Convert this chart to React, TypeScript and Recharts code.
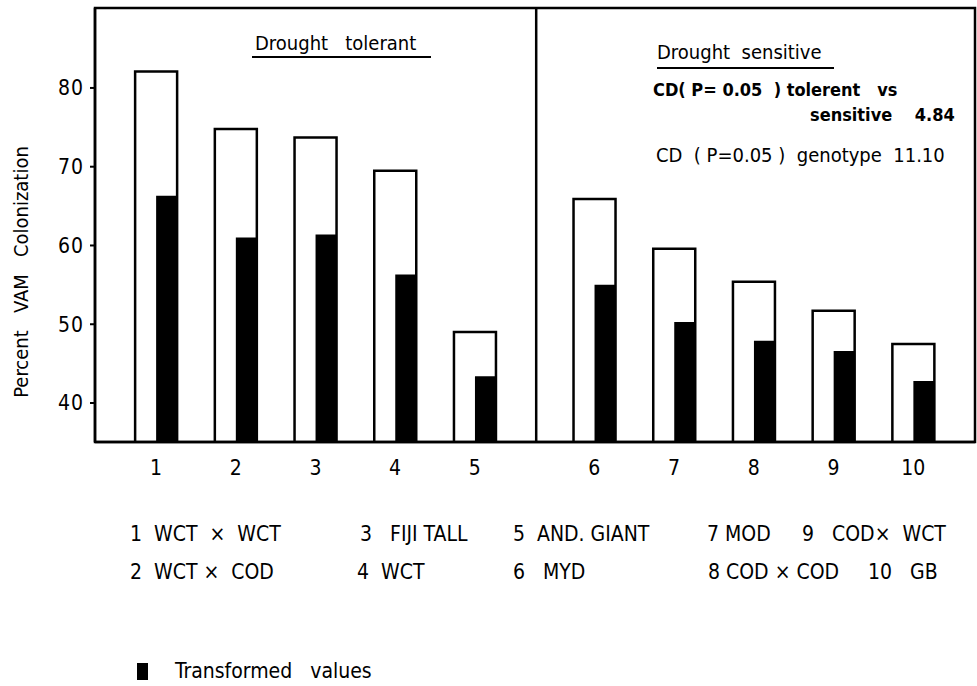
import React from 'react';
import { ComposedChart, Bar, XAxis, YAxis, ReferenceLine, ReferenceArea } from 'recharts';

const FONT = '"DejaVu Sans Condensed", "Liberation Sans Narrow", "DejaVu Sans", sans-serif';

// genotype numbers shown under the bars
const genotypeNumbers = ['1', '2', '3', '4', '5', '6', '7', '8', '9', '10'];
// percent VAM colonization (open bars)
const percentColonization = [82.1, 74.8, 73.7, 69.5, 49.0, 65.9, 59.6, 55.4, 51.7, 47.5];
// transformed values (black bars)
const transformedValues = [66.3, 61.0, 61.4, 56.3, 43.4, 55.0, 50.3, 47.9, 46.6, 42.8];
const genotypeNames = [
  'WCT  \u00d7  WCT',
  'WCT \u00d7  COD',
  'FIJI TALL',
  'WCT',
  'AND. GIANT',
  'MYD',
  'MOD',
  'COD \u00d7 COD',
  'COD\u00d7  WCT',
  'GB',
];
const yTicks = [40, 50, 60, 70, 80];

// layout of the genotype key under the chart
const KEY_LEFT = [130, 130, 360, 357, 513, 513, 707, 708, 802, 868];
const KEY_GAP = ['  ', '  ', '   ', '  ', '  ', '   ', ' ', ' ', '   ', '   '];
const KEY_ROW_Y = [535, 573];

// tolerant group sits in slots 1-5, sensitive group after a wider gap
const slot = (i: number) => (i < 5 ? i + 1 : i + 1.5);
const tickPositions = genotypeNumbers.map((_, i) => slot(i));
const labelAt = (v: number) => genotypeNumbers[tickPositions.indexOf(v)] ?? '';

const data = genotypeNumbers.map((g, i) => ({
  g,
  pos: slot(i),
  percent: percentColonization[i],
  transformed: transformedValues[i],
}));

const X_DOMAIN: [number, number] = [0.235, 11.275];
const Y_DOMAIN: [number, number] = [35.05, 90.15];

function Note({ x, cy, size = 20, bold = false, children }: any) {
  return (
    <div
      style={{
        position: 'absolute',
        left: x,
        top: cy - size * 0.6,
        fontSize: size,
        lineHeight: `${size * 1.2}px`,
        fontWeight: bold ? 700 : 400,
        whiteSpace: 'pre',
        fontFamily: FONT,
        color: '#000',
      }}
    >
      {children}
    </div>
  );
}

const YTitle = () => (
  <text
    transform="translate(28 272) rotate(-90)"
    textAnchor="middle"
    fontSize={20}
    fontFamily={FONT}
    fill="#000"
    style={{ whiteSpace: 'pre' }}
  >
    Percent   VAM   Colonization
  </text>
);

export default function App() {
  return (
    <div style={{ position: 'absolute', left: 0, top: 0, width: 977, height: 686, background: '#fff', fontFamily: FONT }}>
      <ComposedChart
        width={977}
        height={686}
        data={data}
        margin={{ top: 8, right: 2, bottom: 204, left: 0 }}
        barGap={-21}
        style={{ position: 'absolute', left: 0, top: 0 }}
      >
        <XAxis
          type="number"
          dataKey="pos"
          domain={X_DOMAIN}
          ticks={tickPositions}
          tickFormatter={labelAt}
          interval={0}
          height={40}
          tickLine={false}
          tickSize={6}
          tickMargin={12}
          axisLine={{ stroke: '#000', strokeWidth: 2.5 }}
          tick={{ fontSize: 21, fill: '#000', fontFamily: FONT }}
        />
        <YAxis
          type="number"
          domain={Y_DOMAIN}
          ticks={yTicks}
          allowDataOverflow
          width={95}
          tickSize={5}
          tickMargin={6}
          tickLine={{ stroke: '#000', strokeWidth: 2 }}
          axisLine={{ stroke: '#000', strokeWidth: 2.5 }}
          tick={{ fontSize: 21, fill: '#000', fontFamily: FONT, letterSpacing: 1 }}
          label={<YTitle />}
        />
        <ReferenceArea
          x1={X_DOMAIN[0]}
          x2={X_DOMAIN[1]}
          y1={Y_DOMAIN[0]}
          y2={Y_DOMAIN[1]}
          fill="none"
          stroke="#000"
          strokeWidth={2.5}
          ifOverflow="visible"
        />
        <ReferenceLine x={5.77} stroke="#000" strokeWidth={2.5} ifOverflow="visible" />
        <Bar dataKey="percent" barSize={42} fill="#fff" stroke="#000" strokeWidth={2.5} isAnimationActive={false} />
        <Bar dataKey="transformed" barSize={21} fill="#000" isAnimationActive={false} />
      </ComposedChart>

      <Note x={255} cy={43}>{'Drought   tolerant'}</Note>
      <div style={{ position: 'absolute', left: 252, top: 56, width: 179, borderTop: '2px solid #000' }} />
      <Note x={657} cy={52}>{'Drought  sensitive'}</Note>
      <div style={{ position: 'absolute', left: 657, top: 67, width: 177, borderTop: '2px solid #000' }} />
      <Note x={653} cy={90} size={18} bold>{'CD( P= 0.05  ) tolerent   vs'}</Note>
      <Note x={810} cy={115} size={18} bold>{'sensitive    4.84'}</Note>
      <Note x={656} cy={155} size={20}>{'CD  ( P=0.05 )  genotype  11.10'}</Note>

      {genotypeNames.map((name, i) => (
        <Note key={name} x={KEY_LEFT[i]} cy={KEY_ROW_Y[i % 2]} size={21}>
          {genotypeNumbers[i] + KEY_GAP[i] + name}
        </Note>
      ))}

      <div style={{ position: 'absolute', left: 137, top: 663, width: 11, height: 17, background: '#000' }} />
      <Note x={175} cy={672} size={21}>{'Transformed   values'}</Note>
    </div>
  );
}
